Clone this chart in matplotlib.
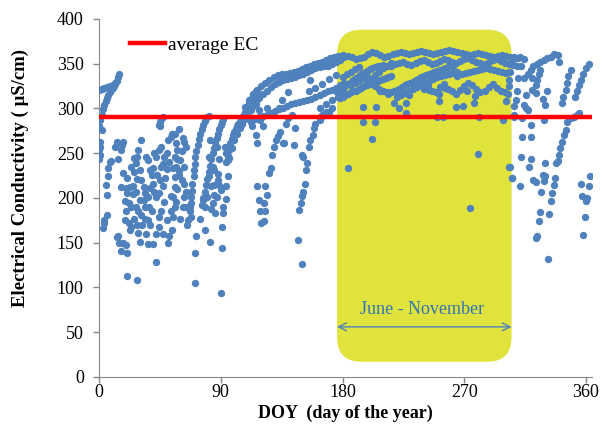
import numpy as np
import matplotlib.pyplot as plt
from matplotlib.patches import FancyBboxPatch

plt.rcParams['font.family'] = ['Liberation Serif', 'DejaVu Serif']

# ---- data (DOY, EC in uS/cm) ----
avg_ec = 291

# January: top band and a rising curve
jan_top_doy = [0, 2, 4, 6, 8, 10, 12, 13, 14, 15]
jan_top_ec = [321, 322, 323, 324, 325, 326, 328, 331, 335, 338]
jan_rise_doy = [0, 1, 2, 3, 4, 5, 6, 7, 8, 9, 10, 11, 12]
jan_rise_ec = [280, 287, 293, 299, 304, 308, 312, 315, 318, 321, 323, 325, 327]

# winter scatter (DOY 0-60)
winter_pts = [
    (0, 254), (1, 248), (1, 257), (2, 276), (1, 263), (0, 244), (3, 167), (4, 175),
    (4, 172), (6, 181), (6, 203), (5, 215), (7, 224), (8, 240), (7, 233), (9, 241),
    (12, 257), (13, 263), (14, 243), (16, 254), (18, 263), (17, 259),
    (16, 212), (20, 211), (23, 212), (25, 213), (19, 197), (21, 206), (22, 194),
    (24, 190), (20, 185), (27, 190), (19, 175), (22, 172), (24, 168), (23, 164),
    (29, 161), (30, 151), (14, 158), (13, 156), (15, 150), (16, 141), (18, 150),
    (20, 148), (21, 139), (21, 113), (28, 108),
    (29, 254), (31, 265), (28, 246), (27, 239), (26, 229), (28, 221), (30, 231),
    (31, 220), (33, 212), (34, 205), (30, 198), (33, 198), (34, 190), (31, 181),
    (34, 177), (35, 160), (36, 149), (40, 149), (42, 160), (42, 129),
    (35, 246), (36, 242), (38, 231), (39, 226), (40, 216), (41, 207), (42, 201),
    (44, 205), (36, 201), (39, 186), (36, 175), (44, 179), (38, 170), (41, 250),
    (42, 246), (44, 254), (46, 257), (48, 246), (46, 235), (47, 238), (50, 250),
    (51, 265), (53, 268), (54, 272), (56, 272), (57, 261), (56, 246), (57, 235),
    (56, 223), (56, 212), (55, 201), (56, 190), (53, 186), (55, 179), (52, 158),
    (51, 150), (54, 164), (58, 254), (44, 281), (45, 285), (46, 288), (47, 291),
    (45, 280),
    (18, 228), (21, 222), (24, 235), (26, 245), (25, 204), (27, 207), (29, 186),
    (26, 176), (32, 170), (28, 170), (37, 190), (38, 211), (40, 233), (43, 226),
    (45, 220), (47, 213), (49, 222), (50, 232), (52, 240), (48, 195), (46, 185),
    (44, 168), (47, 160), (50, 175), (53, 202), (55, 233), (58, 243), (59, 230),
    (58, 210), (57, 196),
]

# March-April rising curves
mar_rise1_doy = [66, 67, 68, 68, 69, 69, 70, 70, 71, 71, 72, 73, 74, 75, 76, 77, 78, 80, 81]
mar_rise1_ec = [175, 186, 194, 201, 208, 216, 224, 231, 238, 246, 253, 259, 266, 272, 277, 282, 286, 290, 292]
mar_rise2_doy = [76, 77, 78, 79, 80, 81, 82, 83, 84, 85, 86, 87, 88, 89, 90, 91, 92]
mar_rise2_ec = [192, 200, 207, 214, 221, 229, 236, 243, 250, 256, 262, 267, 272, 277, 281, 285, 288]
apr_rise1_doy = [94, 95, 96, 97, 98, 99, 100, 101, 102, 103, 104, 105, 106, 107, 108, 109,
                 110, 111, 112, 113, 114, 115, 116, 117]
apr_rise1_ec = [240, 247, 254, 261, 266, 270, 274, 277, 280, 283, 285, 288, 290, 293, 296, 299,
                303, 306, 309, 312, 315, 317, 319, 321]
apr_rise2_doy = [96, 98, 100, 102, 104, 106, 108, 110, 112, 114, 116, 118]
apr_rise2_ec = [245, 256, 265, 272, 278, 283, 288, 292, 298, 303, 309, 314]

spring_pts = [
    (59, 277), (62, 267), (63, 263), (64, 257), (61, 252), (60, 242), (63, 235), (59, 226),
    (61, 220), (63, 216), (64, 207), (63, 201), (64, 190), (62, 190), (60, 177), (65, 170),
    (68, 179), (67, 190),
    (82, 265), (81, 246), (84, 235), (85, 231), (88, 227), (89, 244), (87, 257), (93, 257),
    (94, 250), (95, 242), (95, 224), (81, 224), (83, 213), (85, 214), (88, 220), (89, 214),
    (90, 209), (94, 213), (80, 201), (85, 203), (87, 201), (84, 194), (83, 188), (86, 183),
    (92, 183), (94, 199), (91, 168), (78, 190), (77, 198), (75, 176), (78, 164), (72, 158),
    (82, 151), (91, 144), (71, 138), (71, 105), (90, 94), (92, 190),
    (117, 261), (117, 213), (118, 198), (119, 185), (120, 172), (116, 270),
]

# May-June bands
summer_up1_doy = [108, 111, 114, 117, 120, 123, 126, 129, 132, 135, 138, 141, 144, 147, 150,
                  153, 156, 159, 162, 165, 168, 171, 174, 177, 180]
summer_up1_ec = [302, 310, 316, 321, 325, 328, 332, 335, 337, 338, 339, 340, 341, 342, 344,
                 346, 348, 350, 351, 352, 354, 356, 358, 359, 360]
summer_up2_doy = [118, 121, 124, 127, 130, 133, 136, 139, 142, 145, 148, 151, 154, 157, 160,
                  163, 166, 169, 172, 175, 178]
summer_up2_ec = [312, 316, 320, 324, 327, 330, 332, 333, 334, 335, 337, 339, 341, 343, 345,
                 346, 347, 348, 350, 352, 354]
summer_mid_doy = [112, 115, 118, 121, 124, 127, 130, 133, 136, 139, 142, 145, 148, 151, 154,
                  157, 160, 163, 166, 169, 172, 175, 178, 181]
summer_mid_ec = [285, 288, 290, 292, 293, 295, 297, 299, 301, 303, 305, 306, 307, 308, 309,
                 311, 313, 315, 317, 319, 321, 323, 326, 329]
may_rise_doy = [122, 123, 122, 124, 123, 126, 127, 128, 129, 131, 132, 134, 138, 140, 143]
may_rise_ec = [174, 185, 194, 203, 213, 228, 233, 248, 257, 265, 269, 274, 283, 289, 293]
jun_rise_doy = [148, 149, 150, 151, 152, 153, 154, 151, 150, 155, 156, 158, 159, 160, 163, 165, 170]
jun_rise_ec = [187, 194, 202, 207, 216, 231, 239, 246, 248, 257, 265, 270, 278, 283, 287, 293, 296]
summer_pts = [
    (145, 278), (155, 319), (156, 332), (147, 153), (150, 126), (119, 287), (118, 298),
    (116, 305), (121, 280), (124, 300), (113, 280), (133, 300), (135, 310), (140, 318),
    (160, 323), (165, 327), (170, 333), (175, 337), (163, 300), (168, 305), (172, 310),
    (177, 313), (165, 292), (168, 296), (172, 300), (137, 261), (144, 259), (136, 261),
]

# June-November (high EC period)
yel_top1_doy = [178, 181, 184, 187, 190, 193, 196, 199, 202, 205, 208, 211, 214, 217, 220,
                223, 226, 229, 232, 235, 238, 241, 244, 247, 250, 253, 256, 259, 262, 265,
                268, 271, 274, 277, 280, 283, 286, 289, 292, 295, 298, 301, 304, 307, 310]
yel_top1_ec = [357, 358, 359, 357, 355, 356, 358, 361, 363, 362, 360, 358, 359, 361, 362,
               363, 362, 361, 362, 363, 364, 363, 362, 361, 362, 363, 364, 365, 364, 363,
               362, 361, 360, 361, 362, 361, 360, 359, 358, 359, 360, 359, 358, 357, 356]
yel_top2_doy = [216, 219, 222, 225, 228, 231, 234, 237, 240, 243, 246, 249, 252, 255, 258,
                261, 264, 267, 270, 273, 276, 279, 282, 285, 288, 291, 294, 297, 300, 303,
                306, 309, 312]
yel_top2_ec = [348, 350, 351, 352, 350, 349, 351, 353, 354, 352, 350, 351, 353, 355, 354,
               352, 351, 353, 355, 356, 354, 352, 351, 350, 352, 354, 355, 353, 351, 350,
               349, 348, 347]
yel_diag1_doy = [214, 216, 218, 220, 222, 224, 226, 228, 230, 232, 234, 236, 238, 240, 242,
                 244, 246, 248, 250, 252, 254, 256, 258, 260, 262]
yel_diag1_ec = [316, 318, 319, 321, 322, 324, 326, 327, 329, 330, 332, 333, 335, 336, 337,
                339, 340, 341, 342, 343, 344, 345, 346, 347, 348]
yel_diag1b_doy = [220, 223, 226, 229, 232, 235, 238, 241, 244, 247, 250, 253, 256, 259, 262, 265]
yel_diag1b_ec = [313, 315, 317, 320, 322, 324, 327, 329, 331, 333, 335, 336, 337, 338, 340, 341]
yel_diag2_doy = [265, 268, 271, 274, 277, 280, 283, 286, 289, 292, 295, 298, 301, 304]
yel_diag2_ec = [336, 338, 340, 341, 342, 343, 344, 345, 344, 343, 342, 341, 340, 341]
yel_low_doy = [240, 243, 246, 249, 252, 255, 258, 261, 264, 267, 270, 273, 276, 279, 282,
               285, 288, 291, 294, 297, 300]
yel_low_ec = [322, 325, 320, 318, 324, 327, 322, 319, 316, 321, 325, 329, 326, 322, 318,
              320, 324, 327, 323, 320, 318]
yel_left1_doy = [176, 178, 180, 182, 184, 186, 188, 190, 192, 194, 196, 198, 200, 202, 204,
                 206, 208, 210]
yel_left1_ec = [318, 320, 322, 325, 327, 330, 332, 334, 336, 338, 340, 342, 344, 345, 346,
                347, 348, 349]
yel_left2_doy = [178, 180, 182, 184, 186, 188, 190, 192, 194, 196, 198, 200, 202, 204, 206,
                 208, 210, 212, 214, 216]
yel_left2_ec = [312, 313, 315, 316, 318, 319, 320, 322, 323, 325, 326, 327, 328, 330, 331,
                332, 333, 334, 335, 336]
yel_left3_doy = [180, 183, 186, 189, 192, 195, 198, 201, 204, 207, 210, 213, 216]
yel_left3_ec = [335, 338, 341, 344, 346, 340, 336, 333, 337, 341, 345, 348, 351]
yel_left4_doy = [186, 189, 192, 195, 198, 201, 204, 207, 210, 213]
yel_left4_ec = [326, 328, 331, 334, 331, 328, 325, 322, 320, 318]
yellow_pts = [
    (195, 302), (205, 302), (218, 306), (222, 300), (227, 306), (227, 295), (251, 308),
    (251, 316), (264, 302), (269, 303), (277, 306), (301, 308), (302, 316), (307, 303),
    (250, 290), (254, 290), (281, 291), (299, 287), (307, 291), (195, 285), (204, 285),
    (202, 266), (184, 233), (280, 249), (274, 189), (303, 235), (305, 222),
    (208, 319), (229, 315), (244, 321), (256, 323), (272, 320), (278, 314),
]

# late autumn / December
dec_line1_doy = [317, 319, 321, 324, 326, 329, 331, 334, 336, 339, 340]
dec_line1_ec = [338, 343, 347, 350, 352, 354, 356, 358, 361, 360, 352]
dec_line2_doy = [323, 324, 325, 326]
dec_line2_ec = [326, 332, 338, 343]
dec_line3_doy = [342, 343, 345, 346, 347, 349]
dec_line3_ec = [306, 313, 321, 328, 336, 343]
dec_line4_doy = [352, 353, 355, 356, 358, 360, 362]
dec_line4_ec = [313, 319, 326, 332, 339, 345, 350]
dec_line5_doy = [339, 340, 341, 342, 344, 345, 346, 349, 351, 353, 355]
dec_line5_ec = [241, 248, 256, 263, 270, 276, 285, 289, 291, 293, 295]
autumn_pts = [
    (303, 341), (303, 332), (303, 325), (310, 334), (314, 334), (320, 334), (309, 319),
    (308, 310), (316, 315), (320, 321), (323, 317), (331, 319), (328, 311), (330, 304),
    (314, 304), (316, 300), (317, 298), (307, 293), (313, 289), (329, 287), (319, 282),
    (313, 268), (319, 268), (312, 246), (319, 243), (318, 235), (330, 239), (338, 239),
    (304, 235), (305, 222), (311, 213), (321, 220), (323, 218), (328, 226), (330, 224),
    (329, 219), (337, 222), (336, 215), (327, 207), (335, 206), (334, 197), (326, 184),
    (333, 182), (325, 174), (324, 157), (323, 155), (332, 132),
    (356, 216), (362, 213), (357, 202), (361, 200), (360, 197), (363, 225), (359, 179),
    (358, 159), (305, 352), (308, 356), (311, 358), (314, 355),
]

# ---- gather points ----
doy = (jan_top_doy + jan_rise_doy + mar_rise1_doy + mar_rise2_doy + apr_rise1_doy
       + apr_rise2_doy + summer_up1_doy + summer_up2_doy + summer_mid_doy + may_rise_doy
       + jun_rise_doy + yel_top1_doy + yel_top2_doy + yel_diag1_doy + yel_diag1b_doy
       + yel_diag2_doy + yel_low_doy + yel_left1_doy + yel_left2_doy + yel_left3_doy
       + yel_left4_doy + dec_line1_doy + dec_line2_doy + dec_line3_doy + dec_line4_doy
       + dec_line5_doy)
ec = (jan_top_ec + jan_rise_ec + mar_rise1_ec + mar_rise2_ec + apr_rise1_ec
      + apr_rise2_ec + summer_up1_ec + summer_up2_ec + summer_mid_ec + may_rise_ec
      + jun_rise_ec + yel_top1_ec + yel_top2_ec + yel_diag1_ec + yel_diag1b_ec
      + yel_diag2_ec + yel_low_ec + yel_left1_ec + yel_left2_ec + yel_left3_ec
      + yel_left4_ec + dec_line1_ec + dec_line2_ec + dec_line3_ec + dec_line4_ec
      + dec_line5_ec)
for pts in (winter_pts, spring_pts, summer_pts, yellow_pts, autumn_pts):
    doy += [p[0] for p in pts]
    ec += [p[1] for p in pts]
doy = np.array(doy)
ec = np.array(ec)

# ---- plot ----
fig = plt.figure(figsize=(6.02, 4.30), dpi=100)
ax = fig.add_axes([0.1645, 0.1233, 0.819, 0.8326])

# highlighted period (rounded box)
box = FancyBboxPatch((176, 17), 129, 371,
                     boxstyle="round,pad=0,rounding_size=18",
                     mutation_aspect=1.515, facecolor='#E0E33C',
                     edgecolor='none', zorder=1)
ax.add_patch(box)

ax.scatter(doy, ec, s=28, color='#4F81BD', linewidths=0, zorder=3)
ax.axhline(avg_ec, color='#FF0000', lw=3.2, zorder=4, label='average EC')

ax.annotate('', xy=(176, 56), xytext=(305, 56),
            arrowprops=dict(arrowstyle='<->', color='#4F81BD', lw=1,
                            shrinkA=0, shrinkB=0, mutation_scale=14), zorder=5)
ax.text(239, 75, 'June - November', ha='center', va='center',
        fontsize=13, color='#2F75B5', zorder=5)

ax.set_xlim(0, 364.5)
ax.set_ylim(0, 400)
ax.set_xticks([0, 90, 180, 270, 360])
ax.set_yticks(np.arange(0, 401, 50))
ax.tick_params(direction='out', length=4, width=1, color='#888888', labelsize=13)
ax.tick_params(axis='x', pad=1)
ax.tick_params(axis='y', pad=7)
for s in ['top', 'right']:
    ax.spines[s].set_visible(False)
for s in ['left', 'bottom']:
    ax.spines[s].set_color('#888888')

ax.set_xlabel('DOY  (day of the year)', fontsize=13, fontweight='bold')
ax.set_ylabel('Electrical Conductivity ( µS/cm)', fontsize=13.5, fontweight='bold')
ax.xaxis.set_label_coords(0.5, -0.078)
ax.yaxis.set_label_coords(-0.142, 0.556)

ax.legend(loc='center left', bbox_to_anchor=(0.063, 0.927), frameon=False,
          fontsize=14, handlelength=1.8, handletextpad=0.15, borderaxespad=0,
          borderpad=0)

fig.savefig('out.png', dpi=100)
